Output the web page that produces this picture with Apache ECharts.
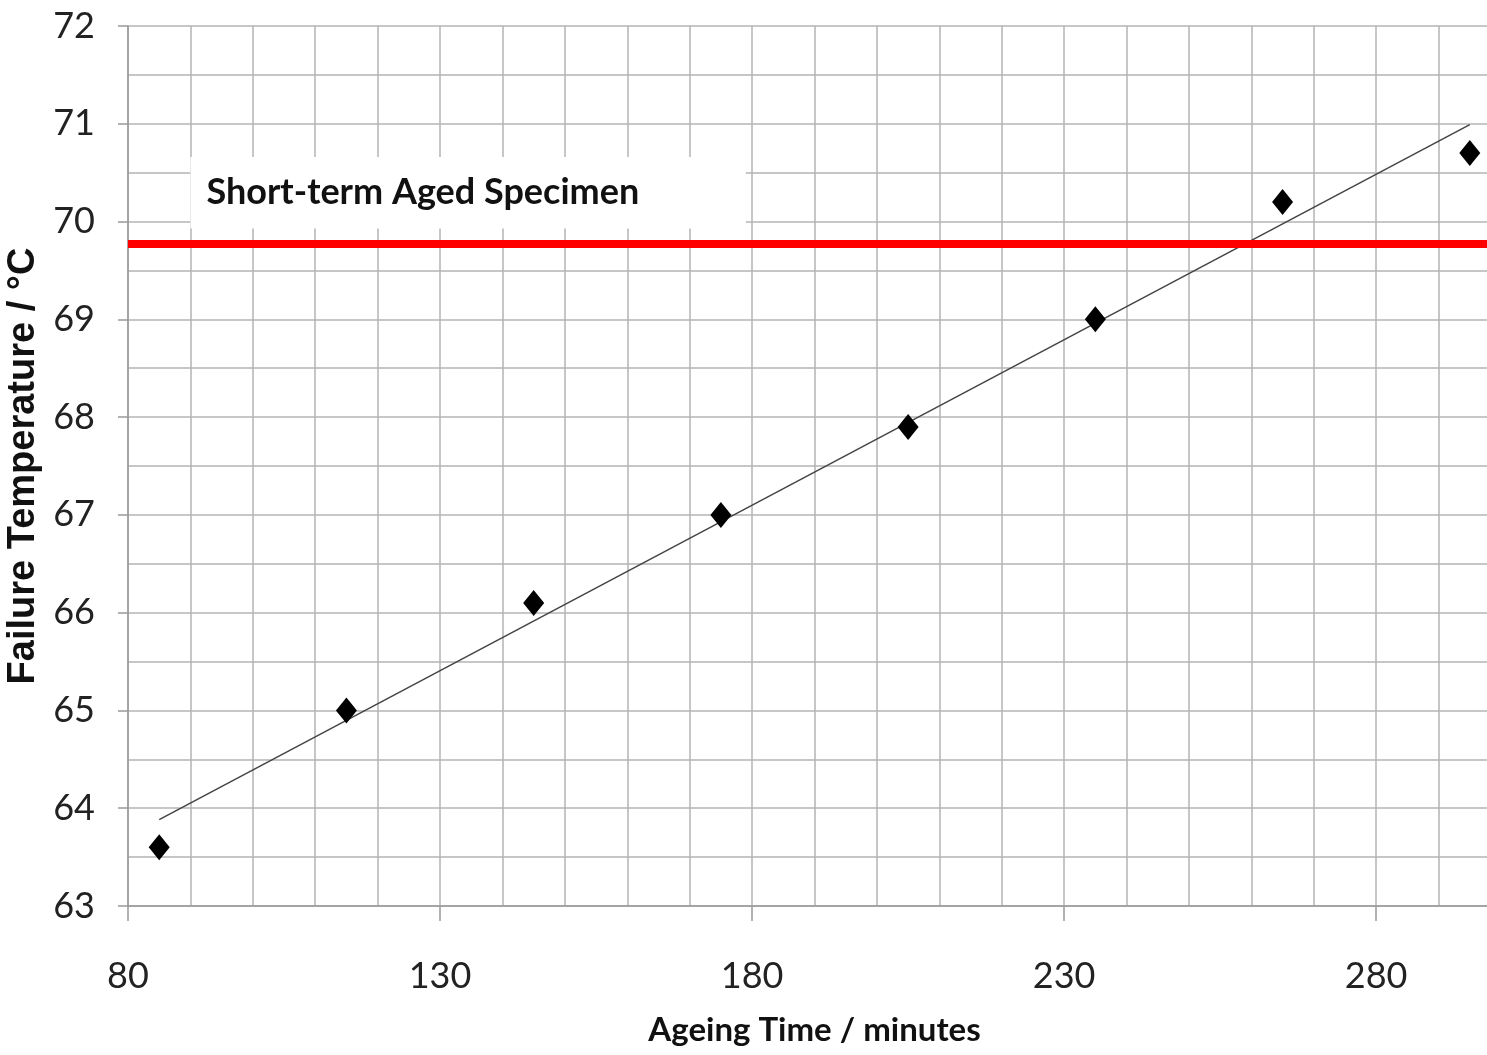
<!DOCTYPE html>
<html>
<head>
<meta charset="utf-8">
<script src="https://cdn.jsdelivr.net/npm/echarts@6/dist/echarts.min.js"></script>
<style>
  html, body { margin: 0; padding: 0; background: #fff; overflow: hidden; }
  #main { width: 1501px; height: 1055px; }
</style>
</head>
<body>
<div id="main"></div>
<script>
// ageing time (min) vs failure temperature (°C)
var ageingTime = [85, 115, 145, 175, 205, 235, 265, 295];
var failureTemp = [63.6, 65.0, 66.1, 67.0, 67.9, 69.0, 70.2, 70.7];
var shortTermTemp = 69.77;
var shortTermLabel = 'Short-term Aged Specimen';
var xTicks = [80, 130, 180, 230, 280];
var yTicks = [63, 64, 65, 66, 67, 68, 69, 70, 71, 72];

// least squares trend line through the points
function fitLine(xs, ys) {
  var n = xs.length, mx = 0, my = 0, sxy = 0, sxx = 0;
  for (var i = 0; i < n; i++) { mx += xs[i]; my += ys[i]; }
  mx /= n; my /= n;
  for (var j = 0; j < n; j++) {
    sxy += (xs[j] - mx) * (ys[j] - my);
    sxx += (xs[j] - mx) * (xs[j] - mx);
  }
  var b = sxy / sxx;
  return { slope: b, icpt: my - b * mx };
}
var fit = fitLine(ageingTime, failureTemp);
var x0 = ageingTime[0], x1 = ageingTime[ageingTime.length - 1];
var trend = [[x0, fit.icpt + fit.slope * x0], [x1, fit.icpt + fit.slope * x1]];

var narrow = 'Lato, "DejaVu Sans Condensed", sans-serif';
var gridColor = '#b4b4b4';

var myChart = echarts.init(document.getElementById('main'));

var option = {
  animation: false,
  backgroundColor: '#fff',
  // plot runs past the right edge of the window, as in the picture
  grid: { left: 128, right: 0, top: 26, bottom: 149, outerBoundsMode: 'none', containLabel: false },
  xAxis: {
    type: 'value',
    min: xTicks[0],
    max: 300,
    interval: 50,
    name: 'Ageing Time / minutes',
    nameLocation: 'middle',
    nameGap: 108,
    nameTextStyle: { fontFamily: narrow, fontWeight: 'bold', fontSize: 33, color: '#111' },
    axisLine: { show: true, onZero: false, lineStyle: { color: '#999', width: 1.5 } },
    axisTick: { show: true, length: 15, lineStyle: { color: '#999', width: 1.5 } },
    axisLabel: {
      margin: 52, fontFamily: narrow, fontSize: 36, color: '#222',
      formatter: function (v) { return xTicks.indexOf(v) >= 0 ? String(v) : ''; }
    },
    splitLine: { show: true, lineStyle: { color: gridColor, width: 1.5 } },
    minorTick: { show: false, splitNumber: 5 },
    minorSplitLine: { show: true, lineStyle: { color: gridColor, width: 1.5 } }
  },
  yAxis: {
    type: 'value',
    min: yTicks[0],
    max: yTicks[yTicks.length - 1],
    interval: 1,
    name: 'Failure Temperature / °C',
    nameLocation: 'middle',
    nameGap: 78,
    nameTextStyle: { fontFamily: '"Liberation Sans", Arial, sans-serif', fontWeight: 'bold', fontSize: 38, color: '#111' },
    axisLine: { show: true, lineStyle: { color: '#999', width: 1.5 } },
    axisTick: { show: true, length: 10, lineStyle: { color: '#999', width: 1.5 } },
    axisLabel: { margin: 33, fontFamily: narrow, fontSize: 36, color: '#222' },
    splitLine: { show: true, lineStyle: { color: gridColor, width: 1.5 } },
    minorTick: { show: false, splitNumber: 2 },
    minorSplitLine: { show: true, lineStyle: { color: gridColor, width: 1.5 } }
  },
  series: [
    {
      type: 'line',
      data: trend,
      symbol: 'none',
      lineStyle: { color: '#444', width: 1.5 },
      z: 3,
      markLine: {
        silent: true,
        symbol: ['none', 'none'],
        label: { show: false },
        lineStyle: { color: '#ff0000', width: 8, type: 'solid' },
        data: [{ yAxis: shortTermTemp }]
      }
    },
    {
      type: 'scatter',
      data: ageingTime.map(function (x, i) { return [x, failureTemp[i]]; }),
      symbol: 'diamond',
      symbolSize: [21, 26],
      itemStyle: { color: '#000', opacity: 1 },
      z: 4
    }
  ]
};

myChart.setOption(option);

// white label box over the grid, placed in data space
var tl = myChart.convertToPixel({ gridIndex: 0 }, [90, 70.66]);
var br = myChart.convertToPixel({ gridIndex: 0 }, [179, 69.93]);
myChart.setOption({
  graphic: [
    {
      type: 'rect',
      shape: { x: tl[0], y: tl[1], width: br[0] - tl[0], height: br[1] - tl[1] },
      style: { fill: '#fff' },
      z: 10
    },
    {
      type: 'text',
      x: tl[0] + 16,
      y: (tl[1] + br[1]) / 2,
      style: {
        text: shortTermLabel,
        fontFamily: narrow,
        fontWeight: 'bold',
        fontSize: 36,
        fill: '#111',
        verticalAlign: 'middle'
      },
      z: 11
    }
  ]
});
</script>
</body>
</html>
